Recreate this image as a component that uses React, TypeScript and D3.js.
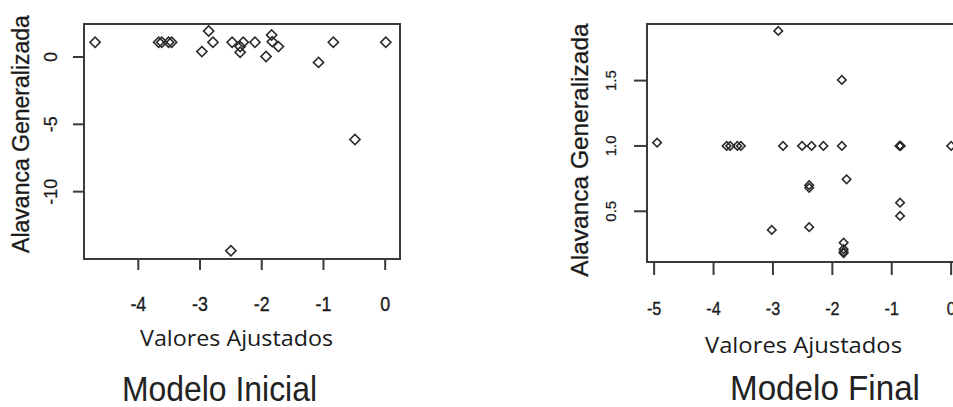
import React from 'react';
import * as d3 from 'd3';

// Modelo Inicial: valores ajustados x alavanca generalizada
const initialFitted = [
  -4.7, -3.67, -3.62, -3.51, -3.46, -2.97, -2.86, -2.79, -2.5, -2.48, -2.35, -2.35,
  -2.3, -2.11, -1.93, -1.84, -1.83, -1.73, -1.08, -0.84, -0.49, 0.01,
];
const initialLeverage = [
  1.09, 1.09, 1.09, 1.09, 1.09, 0.4, 1.93, 1.09, -14.39, 1.09, 0.77, 0.35,
  1.09, 1.09, 0.03, 1.63, 1.14, 0.77, -0.4, 1.09, -6.12, 1.09,
];

// Modelo Final
const finalFitted = [
  -4.95, -3.78, -3.72, -3.6, -3.54, -3.02, -2.91, -2.83, -2.51, -2.39, -2.39, -2.39,
  -2.35, -2.15, -1.84, -1.84, -1.76, -1.81, -1.81, -1.81, -1.81, -0.87, -0.86, -0.85,
  -0.86, -0.86, 0.0,
];
const finalLeverage = [
  1.025, 1.0, 1.0, 1.0, 1.0, 0.357, 1.88, 1.0, 1.0, 0.7, 0.68, 0.378,
  1.0, 1.0, 1.505, 1.0, 0.745, 0.26, 0.21, 0.19, 0.18, 1.0, 1.0, 1.0,
  0.566, 0.464, 1.0,
];

const initialXTicks = [-4, -3, -2, -1, 0];
const initialYTicks = [0, -5, -10];
const finalXTicks = [-5, -4, -3, -2, -1, 0];
const finalYTicks = [0.5, 1.0, 1.5];

const ink = '#1a1a1a';
const rFont = '"Liberation Sans", Arial, sans-serif';
const narrowFont = '"Liberation Sans Narrow", "Liberation Sans", Arial, sans-serif';
const labelFont = '"Open Sans", "Noto Sans", sans-serif';

type PanelProps = {
  xs: number[];
  ys: number[];
  xDomain: [number, number];
  yDomain: [number, number];
  box: { left: number; right: number; top: number; bottom: number };
  xTicks: number[];
  yTicks: number[];
  yFmt: (v: number) => string;
  tickLen: number;
  xTickY: number;
  xTickSize: number;
  yTickX: number;
  yTickSize: number;
  yTitle: { x: number; y: number; size: number };
  xTitle: { x: number; y: number; width: number };
  title: { text: string; x: number; y: number; width: number };
  symbolSize: number;
};

function Panel(p: PanelProps) {
  const x = d3.scaleLinear().domain(p.xDomain).range([p.box.left, p.box.right]);
  const y = d3.scaleLinear().domain(p.yDomain).range([p.box.bottom, p.box.top]);
  const diamond = d3.symbol().type(d3.symbolSquare).size(p.symbolSize)() as string;

  return (
    <g>
      <rect
        x={p.box.left}
        y={p.box.top}
        width={p.box.right - p.box.left}
        height={p.box.bottom - p.box.top}
        fill="none"
        stroke="#3a3a3a"
        strokeWidth={2}
      />
      {p.xTicks.map((t) => (
        <g key={'x' + t}>
          <line x1={x(t)} x2={x(t)} y1={p.box.bottom} y2={p.box.bottom + p.tickLen} stroke="#3a3a3a" strokeWidth={2} />
          <text
            transform={`translate(${x(t)},${p.xTickY}) scale(0.85,1)`}
            textAnchor="middle"
            dominantBaseline="central"
            fontFamily={narrowFont}
            fontSize={p.xTickSize}
            fill={ink}
            stroke={ink}
            strokeWidth={0.35}
          >
            {String(t)}
          </text>
        </g>
      ))}
      {p.yTicks.map((t) => (
        <g key={'y' + t}>
          <line x1={p.box.left - p.tickLen} x2={p.box.left} y1={y(t)} y2={y(t)} stroke="#3a3a3a" strokeWidth={2} />
          <text
            transform={`translate(${p.yTickX},${y(t)}) rotate(-90)`}
            textAnchor="middle"
            dominantBaseline="central"
            fontFamily={rFont}
            fontSize={p.yTickSize}
            fill={ink}
            stroke={ink}
            strokeWidth={0.25}
          >
            {p.yFmt(t)}
          </text>
        </g>
      ))}
      {p.xs.map((v, i) => (
        <path
          key={i}
          d={diamond}
          transform={`translate(${x(v)},${y(p.ys[i])}) rotate(45)`}
          fill="none"
          stroke="#2a2a2a"
          strokeWidth={1.6}
        />
      ))}
      <text
        transform={`translate(${p.yTitle.x},${p.yTitle.y}) rotate(-90)`}
        textAnchor="middle"
        dominantBaseline="central"
        fontFamily={rFont}
        fontSize={p.yTitle.size}
        fill={ink}
        stroke={ink}
        strokeWidth={0.3}
      >
        Alavanca Generalizada
      </text>
      <text
        x={p.xTitle.x - p.xTitle.width / 2}
        y={p.xTitle.y}
        textLength={p.xTitle.width}
        lengthAdjust="spacingAndGlyphs"
        fontFamily={labelFont}
        fontWeight={500}
        fontSize={21}
        fill={ink}
      >
        Valores Ajustados
      </text>
      <text
        x={p.title.x - p.title.width / 2}
        y={p.title.y}
        textLength={p.title.width}
        lengthAdjust="spacingAndGlyphs"
        fontFamily={narrowFont}
        fontSize={35}
        fill="#222"
      >
        {p.title.text}
      </text>
    </g>
  );
}

export default function App() {
  return (
    <svg
      width={953}
      height={407}
      style={{ position: 'absolute', left: 0, top: 0, background: '#fff' }}
    >
      <rect width={953} height={407} fill="#fff" />
      <Panel
        xs={initialFitted}
        ys={initialLeverage}
        xDomain={[-4.88, 0.24]}
        yDomain={[-15.0, 2.45]}
        box={{ left: 84, right: 400, top: 24, bottom: 259 }}
        xTicks={initialXTicks}
        yTicks={initialYTicks}
        yFmt={(v) => String(v)}
        tickLen={11}
        xTickY={303}
        xTickSize={21}
        yTickX={51}
        yTickSize={18}
        yTitle={{ x: 21, y: 134, size: 23 }}
        xTitle={{ x: 236.5, y: 346, width: 193 }}
        title={{ text: 'Modelo Inicial', x: 219.5, y: 401, width: 195 }}
        symbolSize={52}
      />
      <Panel
        xs={finalFitted}
        ys={finalLeverage}
        xDomain={[-5.12, 0.25]}
        yDomain={[0.112, 1.933]}
        box={{ left: 647, right: 966, top: 24, bottom: 262 }}
        xTicks={finalXTicks}
        yTicks={finalYTicks}
        yFmt={(v) => d3.format('.1f')(v)}
        tickLen={13}
        xTickY={309}
        xTickSize={19}
        yTickX={610}
        yTickSize={15}
        yTitle={{ x: 579, y: 150, size: 24.5 }}
        xTitle={{ x: 803.5, y: 353, width: 197 }}
        title={{ text: 'Modelo Final', x: 825, y: 400, width: 190 }}
        symbolSize={36}
      />
    </svg>
  );
}
